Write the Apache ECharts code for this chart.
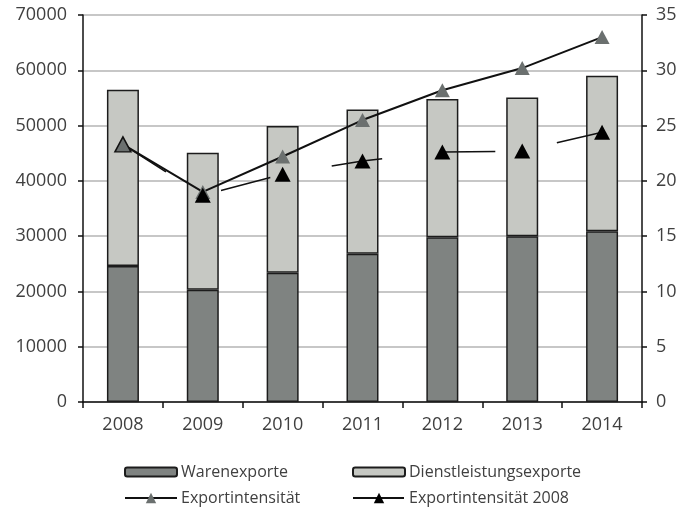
<!DOCTYPE html>
<html>
<head>
<meta charset="utf-8">
<script src="https://cdn.jsdelivr.net/npm/echarts@6/dist/echarts.min.js"></script>
<style>
html,body{margin:0;padding:0;background:#fff;}
#chart{width:683px;height:517px;}
</style>
</head>
<body>
<div id="chart"></div>
<script>
const years = ['2008', '2009', '2010', '2011', '2012', '2013', '2014'];
const warenexporte = [24600, 20300, 23400, 26800, 29800, 30000, 30900];
const dienstleistungsexporte = [31900, 24800, 26500, 26100, 25000, 25100, 28100];
const exportintensitaet = [23.3, 19.0, 22.2, 25.5, 28.2, 30.2, 33.0];
const exportintensitaet2008 = [23.3, 18.7, 20.6, 21.8, 22.6, 22.7, 24.4];

const FONT = '"Open Sans", "Noto Sans", sans-serif';
const TXT = '#404040';
const chart = echarts.init(document.getElementById('chart'), null, {renderer: 'canvas'});

function legendAt(name, left, top, h) {
  return {
    data: [name], left: left, top: top, padding: 0,
    itemWidth: 52, itemHeight: h, itemGap: 0,
    textStyle: {fontFamily: FONT, fontSize: 16, color: TXT, padding: [0, 0, 0, -1]}
  };
}

const option = {
  animation: false,
  backgroundColor: '#fff',
  grid: {left: 83, right: 41, top: 15, bottom: 115},
  legend: [
    legendAt('Warenexporte', 124, 464, 9),
    legendAt('Dienstleistungsexporte', 352, 464, 9),
    legendAt('Exportintensität', 124, 490, 13),
    legendAt('Exportintensität 2008', 352, 490, 13)
  ],
  xAxis: {
    type: 'category', data: years,
    axisLine: {lineStyle: {color: '#111', width: 1.5}},
    axisTick: {show: true, length: 6, lineStyle: {color: '#111', width: 1.5}},
    axisLabel: {fontFamily: FONT, fontSize: 18, color: TXT, margin: 14}
  },
  yAxis: [
    {
      type: 'value', min: 0, max: 70000, interval: 10000, position: 'left',
      axisLine: {show: true, lineStyle: {color: '#111', width: 1.5}},
      axisTick: {show: true, length: 5, lineStyle: {color: '#111', width: 1.5}},
      axisLabel: {fontFamily: FONT, fontSize: 18, color: TXT, margin: 16,
        formatter: v => String(v)},
      splitLine: {lineStyle: {color: '#b4b4b4', width: 1.5}}
    },
    {
      type: 'value', min: 0, max: 35, interval: 5, position: 'right',
      axisLine: {show: true, lineStyle: {color: '#111', width: 1.5}},
      axisTick: {show: true, length: 5, lineStyle: {color: '#111', width: 1.5}},
      axisLabel: {fontFamily: FONT, fontSize: 18, color: TXT, margin: 14,
        formatter: v => String(v)},
      splitLine: {show: false}
    }
  ],
  series: [
    {
      name: 'Warenexporte', type: 'bar', stack: 'exp', barWidth: 32,
      data: warenexporte,
      itemStyle: {color: '#7f8381', borderColor: '#1c1c1c', borderWidth: 1.5}
    },
    {
      name: 'Dienstleistungsexporte', type: 'bar', stack: 'exp', barWidth: 32,
      data: dienstleistungsexporte,
      itemStyle: {color: '#c6c8c3', borderColor: '#1c1c1c', borderWidth: 1.5}
    },
    {
      name: 'Exportintensität', type: 'line', yAxisIndex: 1,
      data: exportintensitaet,
      symbol: 'triangle', symbolSize: [15, 14],
      lineStyle: {color: '#111', width: 2},
      itemStyle: {color: '#6b706f', borderWidth: 0}
    },
    {
      name: 'Exportintensität 2008', type: 'line', yAxisIndex: 1,
      data: exportintensitaet2008.map((v, i) => i === 0
        ? {value: v, itemStyle: {color: '#6b706f', borderColor: '#111', borderWidth: 1.5}}
        : v),
      symbol: 'triangle', symbolSize: [16, 15],
      lineStyle: {color: '#111', width: 1.5, type: [51, 62.5]},
      itemStyle: {color: '#000', borderWidth: 0}
    }
  ]
};
chart.setOption(option);
</script>
</body>
</html>
